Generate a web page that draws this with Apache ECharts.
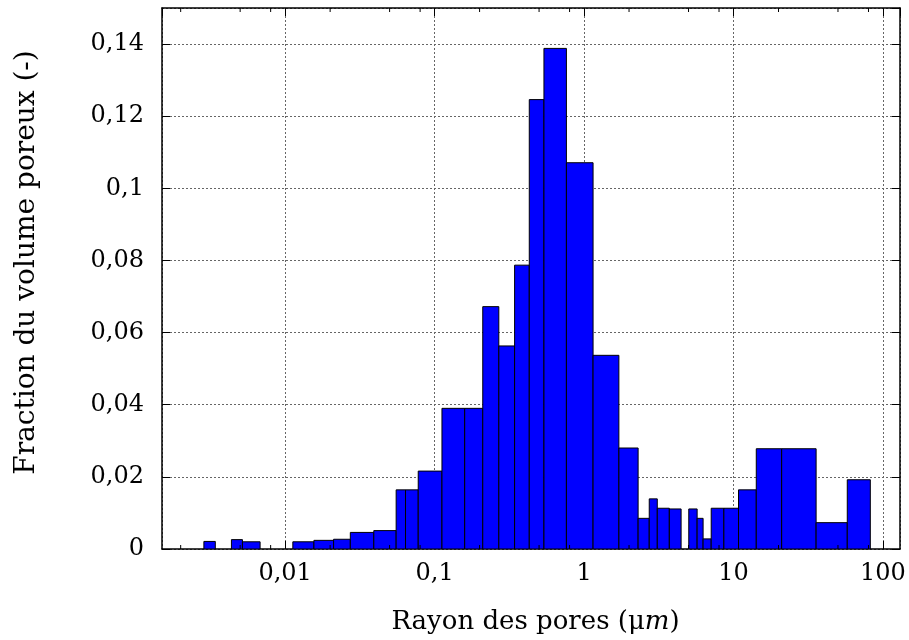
<!DOCTYPE html>
<html>
<head>
<meta charset="utf-8">
<script src="https://cdn.jsdelivr.net/npm/echarts@6/dist/echarts.min.js"></script>
<style>html,body{margin:0;padding:0;background:#fff}#c{width:909px;height:640px}</style>
</head>
<body>
<div id="c"></div>
<script>
// Bin lower edges (µm), upper edges (µm) and pore-volume fraction
const binStart = [0.00286, 0.00437, 0.00518, 0.01126, 0.01558, 0.0211, 0.0273, 0.0392, 0.0553, 0.0639,
  0.0777, 0.112, 0.159, 0.210, 0.269, 0.343, 0.43, 0.539, 0.762, 1.149,
  1.71, 2.30, 2.73, 3.09, 3.72, 5.02, 5.71, 6.26, 7.09, 8.62,
  10.8, 14.2, 21.0, 35.7, 57.7];
const binEnd = [0.00341, 0.00518, 0.0068, 0.01558, 0.0211, 0.0273, 0.0392, 0.0553, 0.0639, 0.0777,
  0.112, 0.159, 0.210, 0.269, 0.343, 0.43, 0.539, 0.762, 1.149, 1.71,
  2.30, 2.73, 3.09, 3.72, 4.46, 5.71, 6.26, 7.09, 8.62, 10.8,
  14.2, 21.0, 35.7, 57.7, 82.3];
const fraction = [0.0021, 0.0026, 0.0020, 0.0020, 0.0024, 0.0027, 0.0046, 0.0051, 0.0164, 0.0164,
  0.0216, 0.039, 0.039, 0.0672, 0.0563, 0.0787, 0.1246, 0.1388, 0.1071, 0.0537,
  0.028, 0.0085, 0.0139, 0.0113, 0.0111, 0.0111, 0.0085, 0.0028, 0.0113, 0.0113,
  0.0164, 0.0278, 0.0278, 0.0073, 0.0192];
const xMin = 0.0015, xMax = 130;
const yMin = 0, yMax = 0.15, yStep = 0.02;
const minorTicks = [0.002, 0.005, 0.008, 0.02, 0.05, 0.08, 0.2, 0.5, 0.8, 2, 5, 8, 20, 50, 80];
const xTitle = 'Rayon des pores (μ{i|m})';
const yTitle = 'Fraction du volume poreux (-)';

const FONT = 'DejaVu Serif';
const binData = binStart.map((s, i) => [s, binEnd[i], fraction[i]]);

function fmtX(v) {
  const l = Math.log10(v);
  if (Math.abs(l - Math.round(l)) > 1e-6) return '';
  return String(parseFloat(v.toPrecision(6))).replace('.', ',');
}
function fmtY(v) {
  if (v > 0.145) return '';
  return String(Math.round(v * 1000) / 1000).replace('.', ',');
}

const chart = echarts.init(document.getElementById('c'), null, {renderer: 'canvas'});
const axisLineStyle = {color: '#000', width: 1.5};
const gridLine = {show: true, lineStyle: {color: '#666', type: [2, 2], width: 1}};
chart.setOption({
  animation: false,
  backgroundColor: '#fff',
  grid: {left: 162, right: 9, top: 8, bottom: 89, containLabel: false},
  xAxis: [{
    type: 'log', logBase: 10, min: xMin, max: xMax, position: 'bottom',
    axisLine: {show: true, onZero: false, lineStyle: axisLineStyle},
    axisTick: {show: true, inside: true, length: 8, lineStyle: {color: '#000', width: 1}},
    minorTick: {show: false},
    axisLabel: {formatter: fmtX, color: '#000', fontFamily: FONT, fontSize: 24, margin: 13, showMinLabel: false, showMaxLabel: false},
    splitLine: gridLine,
    name: xTitle, nameLocation: 'middle', nameGap: 60,
    nameTextStyle: {color: '#000', fontFamily: FONT, fontSize: 26, padding: [0, 0, 0, 9],
      rich: {i: {fontFamily: FONT, fontStyle: 'italic', fontSize: 26, color: '#000'}}}
  }, {
    type: 'log', logBase: 10, min: xMin, max: xMax, position: 'top',
    axisLine: {show: true, onZero: false, lineStyle: axisLineStyle},
    axisTick: {show: true, inside: true, length: 8, lineStyle: {color: '#000', width: 1}},
    axisLabel: {show: false}, splitLine: {show: false}
  }],
  yAxis: [{
    type: 'value', min: yMin, max: yMax, interval: yStep, position: 'left',
    axisLine: {show: true, lineStyle: axisLineStyle},
    axisTick: {show: true, inside: true, length: 8, lineStyle: {color: '#000', width: 1}},
    axisLabel: {formatter: fmtY, color: '#000', fontFamily: FONT, fontSize: 24, margin: 18, showMaxLabel: false},
    splitLine: gridLine,
    name: yTitle, nameLocation: 'middle', nameGap: 121,
    nameTextStyle: {color: '#000', fontFamily: FONT, fontSize: 28, padding: [0, 0, 0, 32]}
  }, {
    type: 'value', min: yMin, max: yMax, interval: yStep, position: 'right',
    axisLine: {show: true, lineStyle: axisLineStyle},
    axisTick: {show: true, inside: true, length: 8, lineStyle: {color: '#000', width: 1}},
    axisLabel: {show: false}, splitLine: {show: false}
  }],
  series: [{
    type: 'custom',
    xAxisIndex: 0, yAxisIndex: 0,
    data: binData,
    encode: {x: [0, 1], y: 2},
    clip: true,
    renderItem: function (params, api) {
      const p0 = api.coord([api.value(0), 0]);
      const p1 = api.coord([api.value(1), api.value(2)]);
      return {
        type: 'rect',
        shape: {x: p0[0], y: p1[1], width: p1[0] - p0[0], height: p0[1] - p1[1]},
        style: {fill: '#0000ff', stroke: '#000', lineWidth: 1}
      };
    }
  }, {
    type: 'custom',
    xAxisIndex: 0, yAxisIndex: 0,
    data: minorTicks.map(v => [v]),
    encode: {x: 0},
    silent: true,
    z: 5,
    renderItem: function (params, api) {
      const b = api.coord([api.value(0), yMin]);
      const t = api.coord([api.value(0), yMax]);
      return {
        type: 'group',
        children: [
          {type: 'line', shape: {x1: b[0], y1: b[1], x2: b[0], y2: b[1] - 4}, style: {stroke: '#000', lineWidth: 1}},
          {type: 'line', shape: {x1: t[0], y1: t[1], x2: t[0], y2: t[1] + 4}, style: {stroke: '#000', lineWidth: 1}}
        ]
      };
    }
  }]
});
</script>
</body>
</html>
